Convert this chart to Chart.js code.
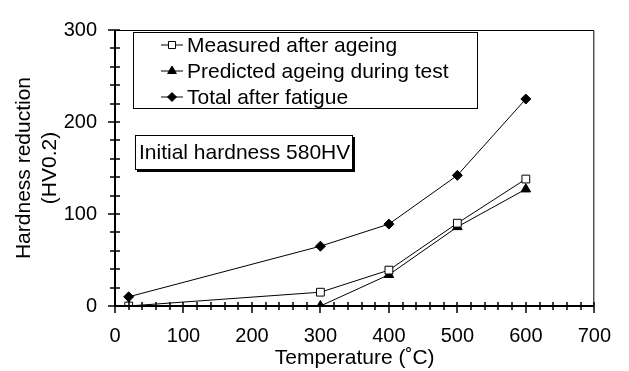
<!DOCTYPE html>
<html>
<head>
<meta charset="utf-8">
<script src="https://cdn.jsdelivr.net/npm/chart.js@4"></script>
<style>
body{margin:0;background:#fff;}
#wrap{width:629px;height:371px;}
</style>
</head>
<body>
<div id="wrap"><canvas id="hardChart" width="629" height="371"></canvas></div>
<script>
// data
var temps = [20, 300, 400, 500, 600];
var measured = [0, 15, 39, 90, 138];
var predicted = [0, 0, 34, 86, 127];
var total = [10, 65, 89, 142, 225];
var xTicks = [0, 100, 200, 300, 400, 500, 600, 700];
var yTicks = [0, 100, 200, 300];
var seriesNames = ['Measured after ageing', 'Predicted ageing during test', 'Total after fatigue'];
var noteText = 'Initial hardness 580HV';

var FONT = '"Liberation Sans", Arial, Helvetica, sans-serif';

function pts(vals){
    var out = [];
    for(var i=0;i<temps.length;i++){
        out.push({x: temps[i], y: vals[i]});
    }
    return out;
}

// minor ticks, frame, legend box and the note box
var extras = {
    id: 'extras',
    afterDraw: function(chart){
        var ctx = chart.ctx;
        var ca = chart.chartArea;
        var xs = chart.scales.x, ys = chart.scales.y;
        ctx.save();
        ctx.strokeStyle = '#000';
        // thin frame top/right
        ctx.lineWidth = 1;
        ctx.beginPath();
        ctx.moveTo(ca.left, ca.top + 0.5);
        ctx.lineTo(ca.right - 0.5, ca.top + 0.5);
        ctx.lineTo(ca.right - 0.5, ca.bottom);
        ctx.stroke();
        // axes
        ctx.lineWidth = 2;
        ctx.beginPath();
        ctx.moveTo(ca.left, ca.top);
        ctx.lineTo(ca.left, ca.bottom);
        ctx.lineTo(ca.right, ca.bottom);
        ctx.stroke();
        // ticks
        ctx.lineWidth = 1.5;
        ctx.beginPath();
        for(var v=0; v<=700; v+=20){
            var px = Math.round(xs.getPixelForValue(v));
            if(v % 100 === 0){
                ctx.moveTo(px, ca.bottom - 4);
                ctx.lineTo(px, ca.bottom + 7);
            }else{
                ctx.moveTo(px, ca.bottom - 4);
                ctx.lineTo(px, ca.bottom + 4);
            }
        }
        for(var w=0; w<=300; w+=20){
            var py = Math.round(ys.getPixelForValue(w));
            if(w % 100 === 0){
                ctx.moveTo(ca.left - 7, py);
                ctx.lineTo(ca.left + 5, py);
            }else{
                ctx.moveTo(ca.left - 5, py);
                ctx.lineTo(ca.left + 5, py);
            }
        }
        ctx.stroke();

        // legend
        ctx.lineWidth = 1;
        ctx.strokeRect(133.5, 32.5, 344, 76);
        ctx.font = '21px ' + FONT;
        ctx.fillStyle = '#000';
        ctx.textBaseline = 'middle';
        ctx.textAlign = 'left';
        var rows = [45, 71, 97];
        chart.data.datasets.forEach(function(ds, i){
            var y = rows[i];
            ctx.beginPath();
            ctx.strokeStyle = '#000';
            ctx.lineWidth = 1;
            ctx.moveTo(161, y);
            ctx.lineTo(183, y);
            ctx.stroke();
            ctx.fillStyle = ds.pointBackgroundColor;
            ctx.strokeStyle = '#000';
            ctx.lineWidth = 1;
            Chart.helpers.drawPoint(ctx, {pointStyle: ds.pointStyle, radius: ds.pointRadius - 0.5, rotation: 0, borderWidth: 1}, 172, y);
            ctx.fillStyle = '#000';
            ctx.fillText(seriesNames[i], 187, y + 1);
        });

        // note box with shadow
        ctx.fillStyle = '#000';
        ctx.fillRect(137, 137, 218, 35);
        ctx.fillStyle = '#fff';
        ctx.fillRect(135, 135, 218, 35);
        ctx.strokeStyle = '#000';
        ctx.lineWidth = 1;
        ctx.strokeRect(135.5, 135.5, 217, 34);
        ctx.fillStyle = '#000';
        ctx.fillText(noteText, 139, 153);
        ctx.restore();
    }
};

var ctx = document.getElementById('hardChart').getContext('2d');
var hardChart = new Chart(ctx, {
    type: 'scatter',
    data: {
        datasets: [
        {
            label: seriesNames[0],
            data: pts(measured),
            showLine: true,
            borderColor: '#000',
            borderWidth: 1,
            pointStyle: 'rect',
            pointRadius: 5.5,
            pointBackgroundColor: '#fff',
            pointBorderColor: '#000',
            pointBorderWidth: 1
        },
        {
            label: seriesNames[1],
            data: pts(predicted),
            showLine: true,
            borderColor: '#000',
            borderWidth: 1,
            pointStyle: 'triangle',
            pointRadius: 5.5,
            pointBackgroundColor: '#000',
            pointBorderColor: '#000',
            pointBorderWidth: 1
        },
        {
            label: seriesNames[2],
            data: pts(total),
            showLine: true,
            borderColor: '#000',
            borderWidth: 1,
            pointStyle: 'rectRot',
            pointRadius: 5,
            pointBackgroundColor: '#000',
            pointBorderColor: '#000',
            pointBorderWidth: 1
        }
        ]
    },
    options: {
        responsive: false,
        animation: false,
        layout: {padding: {top: 20, right: 30, left: 0, bottom: 0}},
        plugins: {
            legend: {display: false},
            tooltip: {enabled: false}
        },
        scales: {
            x: {
                type: 'linear',
                min: 0, max: 700,
                afterFit: function(s){ s.height = 65; },
                afterBuildTicks: function(s){ s.ticks = xTicks.map(function(v){ return {value: v}; }); },
                grid: {display: false, drawTicks: false},
                border: {display: false},
                ticks: {color: '#000', padding: 18, maxRotation: 0, font: {family: FONT, size: 20}},
                title: {display: true, text: 'Temperature (˚C)', color: '#000', padding: {top: 0, bottom: 0}, font: {family: FONT, size: 21}}
            },
            y: {
                min: 0, max: 300,
                afterFit: function(s){ s.width = 115; },
                afterBuildTicks: function(s){ s.ticks = yTicks.map(function(v){ return {value: v}; }); },
                grid: {display: false, drawTicks: false},
                border: {display: false},
                ticks: {color: '#000', padding: 18, font: {family: FONT, size: 20}},
                title: {display: true, text: ['Hardness reduction', '(HV0.2)'], color: '#000', padding: {top: 12, bottom: 0}, font: {family: FONT, size: 21}}
            }
        }
    },
    plugins: [extras]
});
</script>
</body>
</html>
